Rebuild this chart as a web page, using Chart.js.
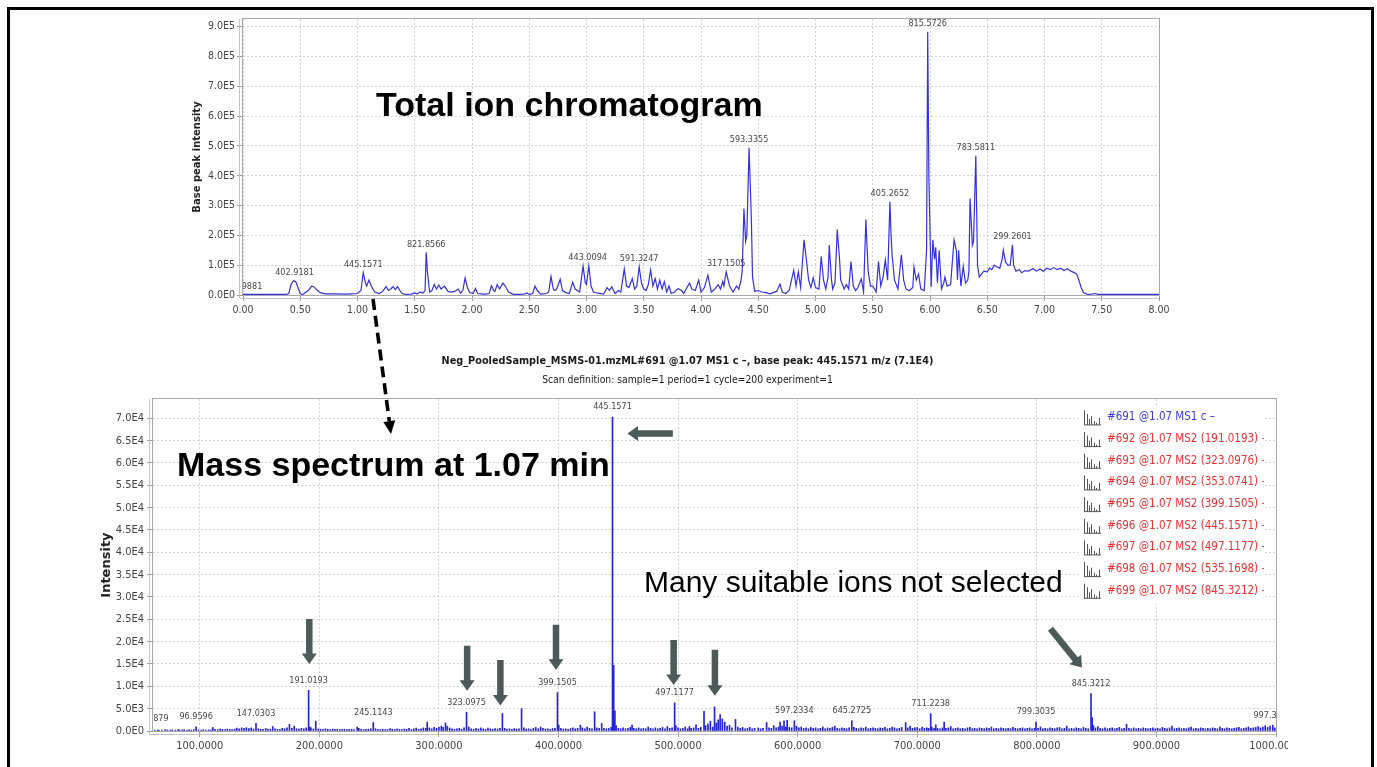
<!DOCTYPE html>
<html>
<head>
<meta charset="utf-8">
<title>TIC and MS1 spectrum</title>
<script src="https://cdn.jsdelivr.net/npm/chart.js@4.4.1/dist/chart.umd.min.js"></script>
<style>
  html, body { margin: 0; padding: 0; background: #fff; }
  body { width: 1377px; height: 767px; position: relative; overflow: hidden; }
  #slide { position: absolute; left: 7px; top: 7px; width: 1361px; height: 780px; border: 3px solid #000; border-bottom: none; }
  canvas { position: absolute; }
  #ticChart { left: 180px; top: 10px; }
  #msChart { left: 87px; top: 345px; }
  #notes { position: absolute; left: 0; top: 0; pointer-events: none; }
</style>
</head>
<body>
<div id="slide"></div>
<canvas id="ticChart" width="1010" height="320"></canvas>
<canvas id="msChart" width="1201" height="422"></canvas>
<svg id="notes" width="1377" height="767" xmlns="http://www.w3.org/2000/svg">
  <line x1="373" y1="299" x2="389.3" y2="421" stroke="#000" stroke-width="3.6" stroke-dasharray="11 6"/>
  <polygon points="391,434 383.3,421.9 395.2,420.3" fill="#000"/>
  <g font-family="'Liberation Sans', Arial, sans-serif" fill="#000">
    <text x="376" y="116" font-size="34" font-weight="bold">Total ion chromatogram</text>
    <text x="177" y="476" font-size="34" font-weight="bold">Mass spectrum at 1.07 min</text>
    <text x="644" y="592" font-size="30">Many suitable ions not selected</text>
  </g>
</svg>
<script>
// ---- total ion chromatogram (time in min, base peak intensity) ----
const ticTime = [
  0.00, 0.10, 0.20, 0.30, 0.38, 0.40, 0.42, 0.44, 0.46, 0.48,
  0.50, 0.52, 0.55, 0.57, 0.60, 0.62, 0.65, 0.68, 0.72, 0.80,
  0.90, 0.95, 1.00, 1.03, 1.05, 1.07, 1.08, 1.10, 1.12, 1.15,
  1.19, 1.22, 1.25, 1.27, 1.29, 1.31, 1.33, 1.35, 1.37, 1.39,
  1.42, 1.47, 1.50, 1.52, 1.55, 1.57, 1.59, 1.60, 1.61, 1.63,
  1.65, 1.67, 1.69, 1.71, 1.73, 1.76, 1.79, 1.82, 1.85, 1.88,
  1.90, 1.92, 1.94, 1.96, 1.98, 2.01, 2.03, 2.05, 2.08, 2.12,
  2.15, 2.17, 2.19, 2.20, 2.22, 2.24, 2.27, 2.29, 2.32, 2.36,
  2.42, 2.46, 2.48, 2.50, 2.53, 2.55, 2.57, 2.60, 2.65, 2.67,
  2.69, 2.71, 2.72, 2.74, 2.77, 2.79, 2.82, 2.85, 2.88, 2.90,
  2.92, 2.94, 2.97, 2.99, 3.00, 3.02, 3.04, 3.06, 3.10, 3.15,
  3.18, 3.20, 3.22, 3.25, 3.28, 3.30, 3.33, 3.35, 3.37, 3.40,
  3.42, 3.44, 3.46, 3.48, 3.50, 3.52, 3.54, 3.56, 3.58, 3.60,
  3.62, 3.64, 3.66, 3.68, 3.70, 3.72, 3.74, 3.77, 3.80, 3.83,
  3.85, 3.87, 3.90, 3.92, 3.95, 3.98, 4.00, 4.03, 4.06, 4.09,
  4.12, 4.15, 4.17, 4.19, 4.20, 4.22, 4.25, 4.28, 4.31, 4.33,
  4.35, 4.36, 4.375, 4.39, 4.40, 4.42, 4.44, 4.45, 4.47, 4.50,
  4.53, 4.57, 4.60, 4.63, 4.66, 4.69, 4.71, 4.74, 4.77, 4.79,
  4.81, 4.83, 4.85, 4.87, 4.90, 4.92, 4.94, 4.96, 4.98, 5.00,
  5.03, 5.05, 5.07, 5.09, 5.11, 5.12, 5.14, 5.15, 5.17, 5.19,
  5.21, 5.22, 5.25, 5.27, 5.29, 5.31, 5.33, 5.35, 5.37, 5.40,
  5.42, 5.44, 5.46, 5.48, 5.50, 5.53, 5.55, 5.57, 5.59, 5.61,
  5.63, 5.65, 5.66, 5.67, 5.69, 5.72, 5.75, 5.77, 5.79, 5.82,
  5.85, 5.86, 5.88, 5.90, 5.92, 5.95, 5.97, 5.98, 5.99, 6.01,
  6.025, 6.04, 6.05, 6.065, 6.08, 6.10, 6.12, 6.13, 6.15, 6.18,
  6.21, 6.23, 6.24, 6.25, 6.27, 6.29, 6.31, 6.33, 6.34, 6.35,
  6.37, 6.38, 6.40, 6.415, 6.43, 6.45, 6.47, 6.50, 6.52, 6.54,
  6.56, 6.58, 6.61, 6.63, 6.64, 6.66, 6.68, 6.70, 6.72, 6.73,
  6.75, 6.78, 6.80, 6.83, 6.86, 6.90, 6.93, 6.96, 6.99, 7.02,
  7.05, 7.08, 7.11, 7.14, 7.17, 7.20, 7.23, 7.26, 7.28, 7.30,
  7.32, 7.34, 7.37, 7.40, 7.44, 7.47, 7.55, 8.00
];
const ticIntensity = [
  2000, 2000, 2000, 2000, 2000, 5000, 35000, 48000, 45000, 25000,
  5000, 1000, 10000, 15000, 30000, 27000, 15000, 7000, 4000, 4000,
  3000, 4000, 5000, 15000, 75000, 40000, 30000, 50000, 30000, 10000,
  5000, 12000, 28000, 15000, 20000, 28000, 18000, 28000, 15000, 5000,
  2000, 3000, 7000, 4000, 10000, 6000, 15000, 143000, 80000, 10000,
  15000, 35000, 20000, 33000, 20000, 30000, 12000, 10000, 12000, 20000,
  6000, 15000, 57000, 25000, 8000, 5000, 22000, 5000, 4000, 3000,
  5000, 31000, 15000, 12000, 35000, 20000, 40000, 30000, 10000, 2000,
  2000, 4000, 7000, 2000, 5000, 30000, 15000, 3000, 5000, 10000,
  62000, 20000, 15000, 20000, 53000, 15000, 8000, 5000, 43000, 20000,
  15000, 10000, 97000, 40000, 35000, 98000, 30000, 10000, 6000, 3000,
  25000, 15000, 28000, 5000, 15000, 10000, 87000, 30000, 25000, 55000,
  20000, 30000, 95000, 40000, 20000, 15000, 35000, 84000, 30000, 55000,
  20000, 50000, 20000, 45000, 10000, 30000, 5000, 10000, 22000, 15000,
  5000, 20000, 40000, 20000, 15000, 50000, 10000, 25000, 66000, 10000,
  20000, 35000, 20000, 45000, 30000, 78000, 30000, 10000, 30000, 20000,
  50000, 80000, 290000, 180000, 200000, 494000, 250000, 60000, 12000, 15000,
  10000, 8000, 4000, 8000, 12000, 36000, 10000, 5000, 15000, 50000,
  83000, 30000, 78000, 25000, 185000, 120000, 50000, 25000, 58000, 25000,
  20000, 129000, 50000, 20000, 60000, 168000, 50000, 20000, 40000, 220000,
  120000, 50000, 20000, 35000, 20000, 112000, 30000, 15000, 25000, 54000,
  10000, 253000, 80000, 30000, 30000, 10000, 112000, 30000, 60000, 118000,
  50000, 313000, 200000, 130000, 50000, 20000, 135000, 50000, 20000, 15000,
  25000, 94000, 50000, 70000, 20000, 15000, 150000, 883000, 400000, 27000,
  185000, 120000, 160000, 40000, 150000, 20000, 40000, 60000, 30000, 35000,
  185000, 150000, 50000, 150000, 30000, 96000, 40000, 50000, 80000, 324000,
  167000, 180000, 467000, 100000, 60000, 70000, 80000, 78000, 90000, 85000,
  100000, 95000, 90000, 120000, 151000, 110000, 100000, 100000, 168000, 100000,
  80000, 85000, 75000, 82000, 80000, 88000, 80000, 87000, 80000, 90000,
  85000, 92000, 85000, 90000, 82000, 88000, 80000, 75000, 70000, 50000,
  25000, 8000, 3000, 2000, 5000, 2000, 2000, 2000
];
// labelled TIC peaks (base peak m/z shown above the peak)
const ticPeakTime = [0.00, 0.45, 1.05, 1.60, 3.01, 3.46, 4.22, 4.42, 5.65, 5.98, 6.40, 6.72];
const ticPeakIntensity = [2000, 48000, 75000, 143000, 98000, 95000, 78000, 494000, 313000, 883000, 467000, 168000];
const ticPeakText = ['302.9881', '402.9181', '445.1571', '821.8566', '443.0094', '591.3247',
  '317.1505', '593.3355', '405.2652', '815.5726', '783.5811', '299.2601'];

// tick positions
const ticTimeTicks = [0, 0.5, 1, 1.5, 2, 2.5, 3, 3.5, 4, 4.5, 5, 5.5, 6, 6.5, 7, 7.5, 8];
const ticIntensityTicks = [0, 100000, 200000, 300000, 400000, 500000, 600000, 700000, 800000, 900000];
const msMzTicks = [100, 200, 300, 400, 500, 600, 700, 800, 900, 1000];
const msIntensityTicks = [0, 5000, 10000, 15000, 20000, 25000, 30000, 35000, 40000, 45000,
  50000, 55000, 60000, 65000, 70000];

// ---- MS1 spectrum at 1.07 min (m/z, intensity) ----
const msMz = [
  59.9879, 62.5, 64.9, 66.0, 68.3, 71.0, 72.9, 75.2, 77.0, 79.6,
  82.0, 83.1, 85.4, 87.0, 89.5, 91.2, 93.0, 95.1, 96.9596, 99.0,
  101.2, 103.0, 105.1, 107.4, 109.2, 110.9, 112.8, 115.0, 117.1, 119.0,
  121.2, 123.0, 125.1, 127.0, 129.1, 131.0, 133.0, 135.0, 137.0, 139.0,
  141.0, 143.0, 145.0, 147.0303, 149.0, 151.0, 153.0, 155.1, 157.0, 159.0,
  161.0, 163.0, 165.0, 167.0, 169.0, 171.0, 173.0, 175.0, 177.0, 179.0,
  181.0, 183.0, 185.0, 187.0, 189.0, 191.0193, 192.0, 193.0, 195.0, 197.0,
  199.0, 201.0, 203.0, 205.1, 207.0, 209.0, 211.1, 213.0, 215.0, 217.1,
  219.0, 221.0, 223.1, 225.0, 227.0, 229.0, 231.7, 233.0, 235.0, 237.0,
  239.0, 241.0, 243.0, 245.1143, 247.0, 249.0, 251.0, 253.0, 255.0, 257.0,
  259.1, 261.0, 263.0, 265.0, 267.0, 269.0, 271.1, 273.0, 275.0, 277.0,
  279.0, 281.0, 283.0, 285.0, 287.0, 289.0, 290.2, 292.0, 294.0, 296.0,
  298.0, 300.0, 302.0, 303.5, 305.5, 307.0, 309.0, 311.0, 313.0, 315.0,
  317.0, 319.0, 321.0, 323.0975, 325.0, 327.0, 329.0, 331.0, 333.0, 335.0,
  337.0, 339.0, 341.0, 343.0, 345.0, 347.0, 349.0, 351.0, 353.0741, 355.0,
  357.0, 359.0, 361.0, 363.0, 365.0, 367.0, 369.1, 371.0, 373.0, 375.0,
  377.0, 379.0, 381.0, 383.0, 385.0, 387.0, 389.0, 391.0, 393.0, 395.0,
  397.0, 399.1505, 400.2, 402.0, 404.0, 406.0, 408.0, 410.0, 412.0, 414.0,
  416.0, 418.3, 420.0, 422.0, 424.0, 426.0, 428.0, 430.2, 432.0, 434.0,
  436.1, 438.0, 440.0, 442.0, 444.0, 445.1571, 446.16, 447.16, 448.2, 450.0,
  452.0, 454.0, 456.0, 458.0, 460.0, 461.5, 463.0, 465.0, 467.0, 469.0,
  471.0, 473.0, 475.0, 477.0, 479.0, 481.0, 483.0, 485.0, 487.0, 489.0,
  491.0, 493.0, 495.0, 497.1177, 498.1, 500.0, 502.0, 504.0, 506.0, 508.0,
  509.5, 511.0, 513.0, 515.0, 517.0, 519.0, 521.7, 523.0, 525.0, 527.0,
  529.0, 530.5, 532.0, 533.5, 535.17, 537.0, 539.0, 541.0, 543.0, 545.0,
  548.0, 550.0, 552.0, 554.0, 556.0, 558.0, 560.0, 562.0, 564.0, 567.0,
  569.0, 571.0, 574.0, 576.0, 578.0, 580.0, 582.0, 584.0, 585.3, 587.0,
  588.6, 590.0, 591.2, 593.0, 595.0, 597.2334, 599.0, 601.0, 603.0, 605.0,
  607.0, 609.0, 611.0, 613.0, 615.0, 617.0, 619.0, 621.0, 623.0, 625.0,
  627.0, 629.0, 631.0, 633.0, 635.0, 637.0, 639.0, 641.0, 643.0, 645.2725,
  647.0, 649.0, 651.0, 653.0, 655.0, 657.0, 659.0, 661.0, 663.0, 665.0,
  667.0, 669.0, 671.0, 673.0, 675.0, 677.0, 679.0, 681.0, 683.0, 685.0,
  687.0, 690.3, 692.0, 694.0, 696.0, 698.0, 700.0, 702.0, 704.0, 706.0,
  708.0, 709.5, 711.2238, 712.2, 714.0, 715.5, 717.0, 719.0, 721.0, 722.5,
  724.0, 726.0, 728.0, 730.0, 732.0, 734.0, 736.0, 738.0, 740.0, 742.0,
  744.0, 746.0, 748.0, 750.0, 752.0, 754.0, 756.0, 758.0, 760.0, 762.0,
  764.0, 766.0, 768.0, 770.0, 772.0, 774.0, 776.0, 778.0, 780.0, 782.0,
  784.0, 786.0, 788.0, 790.0, 792.0, 794.0, 796.0, 798.0, 799.3035, 801.0,
  803.0, 805.0, 807.0, 809.0, 811.0, 813.0, 815.0, 817.0, 819.0, 821.0,
  823.0, 825.0, 827.0, 829.0, 831.0, 833.0, 835.0, 837.0, 839.0, 841.0,
  843.0, 845.3212, 846.3, 847.3, 849.0, 851.0, 853.0, 855.0, 857.0, 859.0,
  861.0, 863.0, 865.0, 867.0, 869.0, 871.0, 873.0, 875.0, 877.0, 879.0,
  881.0, 883.0, 885.0, 887.0, 889.0, 891.0, 893.0, 895.0, 897.0, 899.0,
  901.0, 903.0, 905.0, 907.0, 909.0, 911.0, 913.0, 915.0, 917.0, 919.0,
  921.0, 923.0, 925.0, 927.0, 929.0, 931.0, 933.0, 935.0, 937.0, 939.0,
  941.0, 943.0, 945.0, 947.0, 949.0, 951.0, 953.0, 955.0, 957.0, 959.0,
  961.0, 963.0, 965.0, 967.0, 969.0, 971.0, 973.0, 975.0, 977.0, 979.0,
  981.0, 983.0, 985.0, 987.0, 989.0, 991.0, 993.0, 995.0, 997.3012, 999.0
];
const msIntensity = [
  500, 180, 250, 150, 200, 300, 220, 180, 260, 200,
  350, 200, 240, 300, 180, 260, 200, 300, 950, 250,
  200, 300, 220, 260, 200, 800, 350, 300, 450, 380,
  300, 420, 350, 300, 420, 650, 500, 700, 600, 750,
  550, 700, 450, 1700, 500, 400, 350, 550, 450, 400,
  1000, 500, 400, 350, 600, 500, 700, 1500, 600, 1100,
  500, 450, 600, 500, 700, 9100, 900, 700, 450, 2200,
  450, 400, 350, 500, 400, 300, 450, 350, 400, 300,
  350, 400, 300, 350, 400, 300, 900, 600, 400, 300,
  350, 400, 500, 1900, 500, 350, 300, 400, 300, 350,
  550, 400, 350, 500, 400, 300, 450, 400, 600, 350,
  500, 650, 400, 500, 700, 600, 2000, 700, 500, 800,
  600, 900, 1100, 800, 1800, 1100, 700, 500, 400, 500,
  600, 400, 700, 4200, 900, 500, 400, 600, 450, 700,
  500, 400, 650, 500, 400, 550, 450, 600, 3900, 600,
  450, 500, 400, 550, 450, 500, 5000, 700, 450, 500,
  400, 600, 800, 500, 900, 600, 450, 500, 400, 550,
  600, 8600, 1300, 600, 450, 500, 400, 550, 700, 500,
  600, 1300, 700, 500, 900, 600, 500, 4300, 700, 600,
  1700, 600, 500, 600, 800, 70300, 14700, 4500, 1200, 600,
  500, 700, 500, 600, 800, 1300, 600, 500, 700, 500,
  600, 500, 900, 600, 500, 700, 500, 600, 800, 500,
  1000, 600, 700, 6300, 1200, 700, 500, 600, 900, 500,
  1000, 600, 700, 1400, 600, 800, 4400, 1200, 1600, 2200,
  900, 5400, 1800, 2500, 3700, 2700, 2000, 1100, 1300, 700,
  2600, 900, 600, 800, 500, 600, 800, 500, 600, 700,
  500, 600, 1900, 700, 600, 1200, 700, 900, 2000, 1100,
  2300, 900, 2400, 800, 700, 2300, 1100, 700, 900, 600,
  700, 500, 800, 600, 700, 500, 600, 900, 500, 700,
  600, 800, 1100, 600, 500, 700, 600, 500, 700, 2300,
  800, 600, 500, 700, 600, 900, 500, 600, 700, 600,
  500, 700, 600, 800, 500, 600, 900, 700, 500, 600,
  800, 1900, 700, 1100, 600, 700, 800, 500, 900, 600,
  700, 600, 3900, 900, 600, 1400, 600, 500, 700, 2000,
  600, 700, 1000, 500, 600, 700, 500, 600, 500, 700,
  800, 500, 600, 500, 700, 600, 500, 700, 600, 900,
  500, 600, 500, 700, 600, 500, 600, 500, 800, 600,
  500, 600, 700, 500, 600, 700, 500, 600, 2000, 600,
  900, 500, 600, 500, 700, 600, 500, 700, 800, 500,
  600, 1100, 500, 600, 500, 700, 600, 500, 800, 600,
  500, 8400, 3000, 1200, 700, 1000, 600, 500, 700, 500,
  600, 700, 500, 600, 800, 500, 600, 1500, 600, 500,
  700, 500, 600, 500, 700, 600, 500, 600, 700, 500,
  600, 500, 800, 600, 500, 700, 1100, 500, 600, 700,
  500, 600, 500, 700, 900, 500, 600, 500, 700, 600,
  500, 600, 500, 700, 600, 500, 900, 600, 500, 700,
  600, 500, 600, 700, 800, 500, 600, 700, 900, 600,
  700, 800, 1000, 700, 900, 1200, 800, 1100, 1300, 700
];
// labelled spectrum peaks
const msPeakMz = [59.9879, 96.9596, 147.0303, 191.0193, 245.1143, 323.0975, 399.1505, 445.1571,
  497.1177, 597.2334, 645.2725, 711.2238, 799.3035, 845.3212, 997.3012];
const msPeakIntensity = [500, 950, 1700, 9100, 1900, 4200, 8600, 70300, 6300, 2300, 2300, 3900, 2000, 8400, 1300];

// scans acquired at 1.07 min
const scanLabels = [
  '#691 @1.07 MS1 c \u2013',
  '#692 @1.07 MS2 (191.0193) \u2013',
  '#693 @1.07 MS2 (323.0976) \u2013',
  '#694 @1.07 MS2 (353.0741) \u2013',
  '#695 @1.07 MS2 (399.1505) \u2013',
  '#696 @1.07 MS2 (445.1571) \u2013',
  '#697 @1.07 MS2 (497.1177) \u2013',
  '#698 @1.07 MS2 (535.1698) \u2013',
  '#699 @1.07 MS2 (845.3212) \u2013'
];

// annotation arrows, in data units (m/z, intensity)
const arrowFromMz = [191.6, 323.6, 351.4, 397.9, 496.3, 530.8, 495.6, 811.4];
const arrowFromInt = [25100, 19100, 15900, 23800, 20400, 18200, 66600, 22900];
const arrowToMz = [191.6, 323.6, 351.4, 397.9, 496.3, 530.8, 457.7, 837.7];
const arrowToInt = [15000, 9000, 5700, 13700, 10300, 7900, 66600, 14200];

const msTitle = 'Neg_PooledSample_MSMS-01.mzML#691 @1.07 MS1 c \u2013, base peak: 445.1571 m/z (7.1E4)';
const msSubtitle = 'Scan definition: sample=1 period=1 cycle=200 experiment=1';

const COND = "'DejaVu Sans Condensed', 'Liberation Sans Narrow', 'DejaVu Sans', sans-serif";
const WIDE = "'DejaVu Sans', 'Liberation Sans', sans-serif";
const TICK_COLOR = '#444';
const GRID_COLOR = '#d2d2d2';

function sci(v) {
  if (v === 0) return '0.0E0';
  const e = Math.floor(Math.log10(v) + 1e-9);
  return (v / Math.pow(10, e)).toFixed(1) + 'E' + e;
}

function fixedTicks(values) {
  return s => { s.ticks = values.map(v => ({ value: v })); };
}

// plot outline plus the axis lines set a few px off the plot, like the instrument software
const framePlugin = {
  id: 'frame',
  beforeDatasetsDraw(chart) {
    const { ctx, chartArea: a } = chart;
    ctx.save();
    ctx.lineWidth = 1;
    ctx.strokeStyle = '#a9a9a9';
    ctx.strokeRect(Math.round(a.left) - 0.5, Math.round(a.top) - 0.5,
      Math.round(a.width) + 1, Math.round(a.height) + 1);
    ctx.strokeStyle = '#c4c4c4';
    ctx.beginPath();
    ctx.moveTo(Math.round(a.left) - 3.5, a.top);
    ctx.lineTo(Math.round(a.left) - 3.5, a.bottom + 3);
    ctx.moveTo(a.left - 3, Math.round(a.bottom) + 3.5);
    ctx.lineTo(a.right, Math.round(a.bottom) + 3.5);
    ctx.stroke();
    ctx.restore();
  }
};

function peakLabels(xs, ys, texts, gap) {
  return {
    id: 'peakLabels',
    afterDatasetsDraw(chart) {
      const { ctx, chartArea: a, scales } = chart;
      ctx.save();
      ctx.beginPath();
      ctx.rect(a.left, a.top - 20, a.width, a.height + 20);
      ctx.clip();
      ctx.font = '9px ' + COND;
      ctx.fillStyle = '#474747';
      ctx.textAlign = 'center';
      ctx.textBaseline = 'middle';
      xs.forEach((x, i) => {
        ctx.fillText(texts[i], scales.x.getPixelForValue(x), scales.y.getPixelForValue(ys[i]) - gap);
      });
      ctx.restore();
    }
  };
}

function drawArrow(ctx, x1, y1, x2, y2) {
  const shaft = 6.5, head = 15, headLen = 10.5;
  const dx = x2 - x1, dy = y2 - y1, len = Math.hypot(dx, dy);
  const ux = dx / len, uy = dy / len, nx = -uy, ny = ux;
  const bx = x2 - ux * headLen, by = y2 - uy * headLen;
  ctx.beginPath();
  ctx.moveTo(x1 + nx * shaft / 2, y1 + ny * shaft / 2);
  ctx.lineTo(bx + nx * shaft / 2, by + ny * shaft / 2);
  ctx.lineTo(bx + nx * head / 2, by + ny * head / 2);
  ctx.lineTo(x2, y2);
  ctx.lineTo(bx - nx * head / 2, by - ny * head / 2);
  ctx.lineTo(bx - nx * shaft / 2, by - ny * shaft / 2);
  ctx.lineTo(x1 - nx * shaft / 2, y1 - ny * shaft / 2);
  ctx.closePath();
  ctx.fill();
}

const arrowPlugin = {
  id: 'arrows',
  afterDatasetsDraw(chart) {
    const { ctx, scales: { x, y } } = chart;
    ctx.save();
    ctx.fillStyle = '#4c5a58';
    arrowFromMz.forEach((m, i) => {
      drawArrow(ctx, x.getPixelForValue(m), y.getPixelForValue(arrowFromInt[i]),
        x.getPixelForValue(arrowToMz[i]), y.getPixelForValue(arrowToInt[i]));
    });
    ctx.restore();
  }
};

function drawScanIcon(ctx, x, cy) {
  ctx.save();
  ctx.strokeStyle = '#555';
  ctx.lineWidth = 1;
  ctx.beginPath();
  ctx.moveTo(x + 0.5, cy - 7);
  ctx.lineTo(x + 0.5, cy + 7.5);
  ctx.moveTo(x, cy + 7.5);
  ctx.lineTo(x + 17, cy + 7.5);
  [[3, 11], [5, 6], [7, 9], [10, 4], [12, 2], [15, 7]].forEach(([dx, h]) => {
    ctx.moveTo(x + dx + 0.5, cy + 7.5);
    ctx.lineTo(x + dx + 0.5, cy + 7.5 - h);
  });
  ctx.stroke();
  ctx.restore();
}

const scanListPlugin = {
  id: 'scanList',
  afterDraw(chart) {
    const { ctx, chartArea: a } = chart;
    const left = a.right - 198, top = a.top + 7, rowH = 21.67, w = 186;
    const h = rowH * scanLabels.length + 3;
    ctx.save();
    ctx.fillStyle = '#fff';
    ctx.fillRect(left, top, w, h);
    ctx.beginPath();
    ctx.rect(left, top, w, h);
    ctx.clip();
    ctx.font = '11.5px ' + COND;
    ctx.textBaseline = 'middle';
    scanLabels.forEach((txt, i) => {
      const cy = top + 11.3 + i * rowH;
      drawScanIcon(ctx, left + 6, cy);
      ctx.fillStyle = i === 0 ? '#3a3af0' : '#f03030';
      ctx.fillText(txt, left + 29, cy);
    });
    ctx.restore();
  }
};

// ---- top: total ion chromatogram ----
new Chart(document.getElementById('ticChart'), {
  type: 'line',
  data: {
    datasets: [{
      data: ticTime.map((t, i) => ({ x: t, y: ticIntensity[i] })),
      borderColor: '#3232e2',
      borderWidth: 1.2,
      pointRadius: 0,
      tension: 0,
      fill: false
    }]
  },
  options: {
    responsive: false,
    animation: false,
    events: [],
    layout: { padding: { left: 0, right: 31, top: 9, bottom: 0 } },
    plugins: { legend: { display: false }, tooltip: { enabled: false } },
    scales: {
      x: {
        type: 'linear', min: 0, max: 8,
        afterBuildTicks: fixedTicks(ticTimeTicks),
        ticks: { autoSkip: false, maxRotation: 0, padding: 3, color: TICK_COLOR,
          font: { family: COND, size: 10.5 }, callback: v => v.toFixed(2) },
        grid: { color: GRID_COLOR, tickLength: 6, tickColor: '#999' },
        border: { display: false, dash: [2, 2] },
        afterFit: s => { s.height = 35; s.paddingLeft = 0; s.paddingRight = 0; }
      },
      y: {
        min: 0, max: 926000,
        afterBuildTicks: fixedTicks(ticIntensityTicks),
        ticks: { autoSkip: false, padding: 2, color: TICK_COLOR,
          font: { family: COND, size: 10.5 }, callback: sci },
        grid: { color: GRID_COLOR, tickLength: 6, tickColor: '#999' },
        border: { display: false, dash: [2, 2] },
        title: { display: true, text: 'Base peak intensity', color: '#222',
          font: { family: WIDE, size: 10, weight: 'bold' }, padding: { top: 11, bottom: 0 } },
        afterFit: s => { s.width = 63; s.paddingTop = 0; s.paddingBottom = 0; }
      }
    }
  },
  plugins: [framePlugin, peakLabels(ticPeakTime, ticPeakIntensity, ticPeakText, 8)]
});

// ---- bottom: mass spectrum ----
new Chart(document.getElementById('msChart'), {
  type: 'bar',
  data: {
    datasets: [{
      data: msMz.map((m, i) => ({ x: m, y: msIntensity[i] })),
      backgroundColor: '#2424dc',
      borderWidth: 0,
      barThickness: 1,
      grouped: false
    }]
  },
  options: {
    responsive: false,
    animation: false,
    events: [],
    layout: { padding: { left: 12, right: 12, top: 0, bottom: 0 } },
    plugins: {
      legend: { display: false },
      tooltip: { enabled: false },
      title: { display: true, text: msTitle, color: '#1a1a1a',
        font: { family: COND, size: 10.8, weight: 'bold' }, padding: { top: 9.6, bottom: 0 } },
      subtitle: { display: true, text: msSubtitle, color: '#1a1a1a',
        font: { family: COND, size: 10.3 }, padding: { top: 7, bottom: 12.2 } }
    },
    scales: {
      x: {
        type: 'linear', min: 60.9, max: 1000, offset: false,
        afterBuildTicks: fixedTicks(msMzTicks),
        ticks: { autoSkip: false, maxRotation: 0, padding: 3, color: TICK_COLOR,
          font: { family: COND, size: 11 }, callback: v => v.toFixed(4) },
        grid: { offset: false, color: GRID_COLOR, tickLength: 6, tickColor: '#999' },
        border: { display: false, dash: [2, 2] },
        afterFit: s => { s.height = 36; s.paddingLeft = 0; s.paddingRight = 0; }
      },
      y: {
        min: 0, max: 74300,
        afterBuildTicks: fixedTicks(msIntensityTicks),
        ticks: { autoSkip: false, padding: 3, color: TICK_COLOR,
          font: { family: COND, size: 11 }, callback: sci },
        grid: { color: GRID_COLOR, tickLength: 6, tickColor: '#999' },
        border: { display: false, dash: [2, 2] },
        title: { display: true, text: 'Intensity', color: '#222',
          font: { family: WIDE, size: 13, weight: 'bold' }, padding: 0 },
        afterFit: s => { s.width = 54; s.paddingTop = 0; s.paddingBottom = 0; }
      }
    }
  },
  plugins: [framePlugin, peakLabels(msPeakMz, msPeakIntensity, msPeakMz.map(m => m.toFixed(4)), 10),
    arrowPlugin, scanListPlugin]
});
</script>
</body>
</html>
